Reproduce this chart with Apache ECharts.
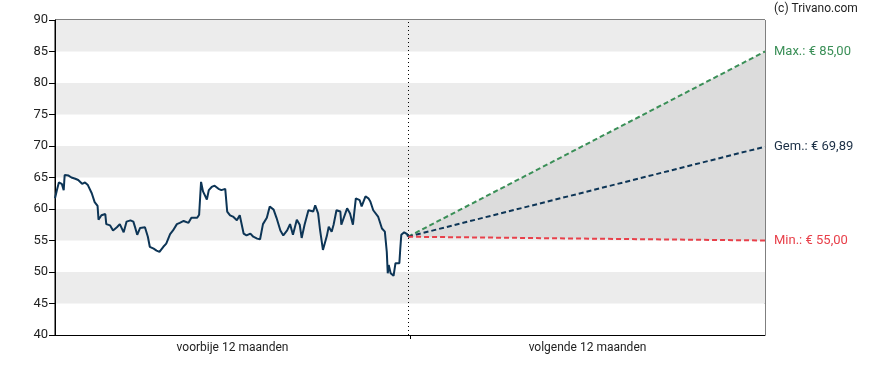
<!DOCTYPE html>
<html><head><meta charset="utf-8">
<script src="https://cdn.jsdelivr.net/npm/echarts@6/dist/echarts.min.js"></script>
<style>html,body{margin:0;padding:0;background:#fff}#c{width:888px;height:370px}</style>
</head><body><div id="c"></div>
<script>
// Past 12 months: [trading day, price]
const pastDays = [0,2,4,7,9,10,12,14,17,21,24,28,31,34,38,41,44,45,48,52,53,57,60,64,67,71,74,78,81,83,85,88,93,96,98,102,105,108,112,115,119,122,126,129,133,138,141,147,149,151,153,157,159,162,165,169,172,176,178,181,184,188,191,195,198,202,205,209,212,215,219,222,226,229,233,236,240,243,246,250,253,255,258,262,267,269,272,274,277,281,283,286,288,291,295,296,302,305,308,311,315,317,321,324,326,329,334,338,341,343,344,345,347,350,352,354,356,357,358,361,364,365];
const pastPrices = [61.7,63.0,64.2,64.0,63.0,65.4,65.6,65.3,65.0,64.8,64.6,64.0,64.2,63.8,62.5,61.1,60.5,58.3,59.0,59.2,57.6,57.4,56.6,57.1,57.6,56.3,58.0,58.2,58.0,57.0,55.9,57.0,57.1,55.6,54.0,53.7,53.4,53.2,54.0,54.5,56.0,56.6,57.6,57.8,58.1,57.8,58.6,58.6,59.1,64.3,62.8,61.5,63.0,63.5,63.7,63.2,63.0,63.2,59.6,59.0,58.8,58.2,59.0,56.1,55.8,56.1,55.6,55.3,55.2,57.6,58.6,60.4,59.9,58.6,56.6,55.8,56.6,57.6,55.9,58.3,57.5,55.4,57.5,59.8,59.6,60.6,59.3,56.7,53.5,55.7,57.2,56.4,57.5,59.8,59.6,57.5,60.1,59.3,57.5,61.7,61.4,60.4,62.0,61.7,61.2,59.8,58.8,56.9,56.4,53.2,49.8,51.1,49.8,49.4,51.4,51.6,51.4,53.8,55.9,56.3,56.0,55.6];
// Forecast (next 12 months)
const forecastDays = [365, 734];
const lastPrice = 55.6;
const maxTarget = 85.00;
const avgTarget = 69.89;
const minTarget = 55.00;
const periodLabels = ['voorbije 12 maanden', 'volgende 12 maanden'];
const yTicks = {min: 40, max: 90, interval: 5};

const pastData = pastDays.map((d, i) => [d, pastPrices[i]]);
const maxData = [[forecastDays[0], lastPrice], [forecastDays[1], maxTarget]];
const avgData = [[forecastDays[0], lastPrice], [forecastDays[1], avgTarget]];
const minData = [[forecastDays[0], lastPrice], [forecastDays[1], minTarget]];
const fmt = v => v.toFixed(2).replace('.', ',');

const FONT = 'Roboto';
const chart = echarts.init(document.getElementById('c'), null, {renderer: 'canvas'});
chart.setOption({
  animation: false,
  textStyle: {fontFamily: FONT},
  title: {text: '(c) Trivano.com', left: 774, top: 3, padding: 0,
    textStyle: {fontSize: 12, fontWeight: 'normal', color: '#222', fontFamily: FONT}},
  grid: {left: 55, right: 123, top: 20, bottom: 35, show: true, borderColor: '#000', borderWidth: 1, backgroundColor: 'transparent'},
  xAxis: [
    {type: 'value', min: 0, max: forecastDays[1], show: false},
    {type: 'category', data: periodLabels, position: 'bottom', boundaryGap: true,
      axisLine: {show: true, lineStyle: {color: '#000', width: 1}},
      axisTick: {show: false},
      axisLabel: {color: '#222', fontSize: 12, margin: 7, fontFamily: FONT},
      splitLine: {show: false}},
    {type: 'category', data: ['', '', ''], position: 'bottom', boundaryGap: false,
      axisLine: {show: false},
      axisTick: {show: true, length: 4, lineStyle: {color: '#000'}, interval: (i) => i === 1},
      axisLabel: {show: false},
      splitLine: {show: false}}
  ],
  yAxis: {type: 'value', min: yTicks.min, max: yTicks.max, interval: yTicks.interval,
    axisLine: {show: true, lineStyle: {color: '#000', width: 1}},
    axisTick: {show: true, length: 6, lineStyle: {color: '#000'}},
    axisLabel: {color: '#222', fontSize: 13, margin: 7, fontFamily: FONT},
    splitLine: {show: false},
    splitArea: {show: true, areaStyle: {color: ['#ffffff', '#ececec']}}},
  series: [
    {type: 'custom', name: 'band', xAxisIndex: 0, silent: true, z: 1,
      data: [[forecastDays[0], lastPrice, forecastDays[1], maxTarget, minTarget]],
      renderItem: (params, api) => {
        const p0 = api.coord([api.value(0), api.value(1)]);
        const p1 = api.coord([api.value(2), api.value(3)]);
        const p2 = api.coord([api.value(2), api.value(4)]);
        return {type: 'polygon', shape: {points: [p0, p1, p2]}, style: {fill: '#dcdcdc'}};
      }},
    {type: 'line', name: 'past', data: pastData, symbol: 'none', z: 5,
      lineStyle: {color: '#0d3556', width: 2},
      markLine: {silent: true, symbol: 'none', label: {show: false},
        lineStyle: {color: '#000', type: [1, 3], width: 1},
        data: [{xAxis: forecastDays[0]}]}},
    {type: 'line', name: 'max', data: maxData, symbol: 'none', z: 4,
      lineStyle: {color: '#3a8f57', width: 2, type: [5, 3]},
      endLabel: {show: true, formatter: () => 'Max.: € ' + fmt(maxTarget), color: '#3a8f57', fontSize: 13, distance: 9, fontFamily: FONT}},
    {type: 'line', name: 'avg', data: avgData, symbol: 'none', z: 4,
      lineStyle: {color: '#0d3556', width: 2, type: [5, 3]},
      endLabel: {show: true, formatter: () => 'Gem.: € ' + fmt(avgTarget), color: '#1b2f45', fontSize: 13, distance: 9, fontFamily: FONT}},
    {type: 'line', name: 'min', data: minData, symbol: 'none', z: 4,
      lineStyle: {color: '#e8404a', width: 2, type: [5, 3]},
      endLabel: {show: true, formatter: () => 'Min.: € ' + fmt(minTarget), color: '#e8404a', fontSize: 13, distance: 9, fontFamily: FONT}}
  ]
});
</script></body></html>
